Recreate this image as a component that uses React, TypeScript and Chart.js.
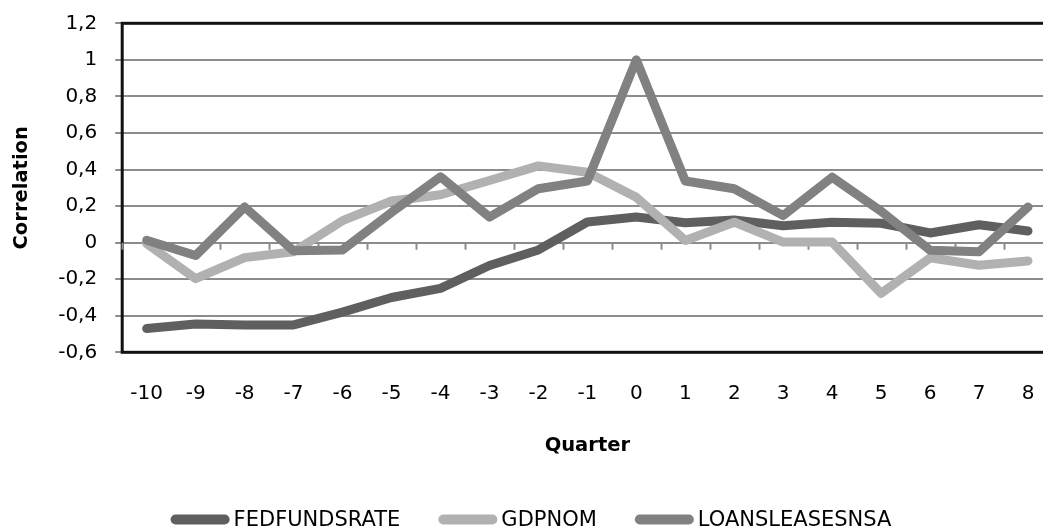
import React, { useEffect, useRef } from "react";
import { Chart, registerables } from "chart.js";

Chart.register(...registerables);

const quarters = ["-10", "-9", "-8", "-7", "-6", "-5", "-4", "-3", "-2", "-1", "0", "1", "2", "3", "4", "5", "6", "7", "8"];

const fedFundsRate = [-0.47, -0.445, -0.45, -0.45, -0.38, -0.3, -0.25, -0.125, -0.04, 0.113, 0.14, 0.109, 0.124, 0.092, 0.111, 0.106, 0.053, 0.098, 0.064];
const gdpNom = [-0.005, -0.197, -0.082, -0.05, 0.12, 0.228, 0.262, 0.34, 0.42, 0.385, 0.248, 0.012, 0.112, 0.003, 0.003, -0.278, -0.083, -0.124, -0.1];
const loansLeases = [0.013, -0.07, 0.195, -0.045, -0.04, 0.165, 0.36, 0.14, 0.295, 0.337, 1.0, 0.337, 0.295, 0.148, 0.358, 0.172, -0.042, -0.05, 0.195];

const seriesNames = ["FEDFUNDSRATE", "GDPNOM", "LOANSLEASESNSA"];
const seriesColors = ["#5f5f5f", "#b1b1b1", "#818181"];

const yMin = -0.6;
const yMax = 1.2;
const yStep = 0.2;

const FONT = '"DejaVu Sans", sans-serif';
const GRID = "#8c8c8c";

const fmtTick = (v: number) => String(Math.round(v * 10) / 10).replace(".", ",");

// Black frame around the plotting area
const plotFrame = {
  id: "plotFrame",
  beforeDatasetsDraw(chart: any) {
    const { ctx, chartArea } = chart;
    ctx.save();
    ctx.strokeStyle = "#111";
    ctx.lineWidth = 3;
    ctx.strokeRect(chartArea.left, chartArea.top, chartArea.right - chartArea.left, chartArea.bottom - chartArea.top);
    ctx.restore();
  },
};

// Category tick marks hanging below the zero line
const zeroAxisTicks = {
  id: "zeroAxisTicks",
  beforeDatasetsDraw(chart: any) {
    const { ctx } = chart;
    const xs = chart.scales.x;
    const y0 = chart.scales.y.getPixelForValue(0);
    ctx.save();
    ctx.strokeStyle = GRID;
    ctx.lineWidth = 2;
    ctx.beginPath();
    for (let i = 0; i <= quarters.length; i++) {
      const px = Math.round(xs.getPixelForValue(i - 0.5)) + 0.5;
      ctx.moveTo(px, y0);
      ctx.lineTo(px, y0 + 7);
    }
    ctx.stroke();
    ctx.restore();
  },
};

// Series key along the bottom: rounded swatch followed by the name
const seriesKey = {
  id: "seriesKey",
  afterDraw(chart: any) {
    const { ctx } = chart;
    ctx.save();
    ctx.font = `21px ${FONT}`;
    const items = chart.data.datasets.map((ds: any) => ({
      label: ds.label,
      color: ds.borderColor,
      w: ctx.measureText(ds.label).width,
    }));
    const sw = 59;
    const gap = 4;
    const spacing = 38;
    const total = items.reduce((s: number, it: any) => s + sw + gap + it.w, 0) + spacing * (items.length - 1);
    let x = chart.width / 2 - total / 2;
    const y = 519.5;
    for (const it of items) {
      ctx.fillStyle = it.color;
      ctx.beginPath();
      ctx.roundRect(x, y - 5, sw, 10, 5);
      ctx.fill();
      x += sw + gap;
      ctx.fillStyle = "#000";
      ctx.textBaseline = "middle";
      ctx.textAlign = "left";
      ctx.fillText(it.label, x, y + 1);
      x += it.w + spacing;
    }
    ctx.restore();
  },
};

export default function App() {
  const canvasRef = useRef<HTMLCanvasElement | null>(null);

  useEffect(() => {
    if (!canvasRef.current) return;
    const values = [fedFundsRate, gdpNom, loansLeases];
    const chart = new Chart(canvasRef.current, {
      type: "line",
      data: {
        labels: quarters,
        datasets: values.map((data, i) => ({
          label: seriesNames[i],
          data,
          borderColor: seriesColors[i],
          backgroundColor: seriesColors[i],
          borderWidth: 9,
          borderCapStyle: "round",
          borderJoinStyle: "round",
          pointRadius: 0,
          tension: 0,
          fill: false,
          order: 2 - i,
        })),
      },
      options: {
        responsive: false,
        animation: false,
        layout: { padding: { left: 0, top: 23.3, right: 9.5, bottom: 0 } },
        plugins: {
          legend: { display: false },
          tooltip: { enabled: false },
        },
        scales: {
          x: {
            type: "category",
            position: "bottom",
            offset: true,
            grid: { display: false, drawTicks: false },
            border: { display: false },
            ticks: {
              color: "#000",
              font: { family: FONT, size: 20 },
              padding: 29,
              maxRotation: 0,
              autoSkip: false,
            },
            title: {
              display: true,
              text: "Quarter",
              color: "#000",
              font: { family: FONT, size: 19.5, weight: "bold" },
              padding: { top: 0, bottom: 72.3 },
            },
            afterFit(scale: any) {
              scale.height = 177.7;
              scale.paddingLeft = 0;
              scale.paddingRight = 0;
            },
          },
          y: {
            min: yMin,
            max: yMax,
            ticks: {
              stepSize: yStep,
              color: "#000",
              font: { family: FONT, size: 20 },
              padding: 18,
              callback: (v: any) => fmtTick(Number(v)),
            },
            grid: {
              color: GRID,
              lineWidth: 2,
              drawTicks: true,
              tickLength: 7,
            },
            border: { display: true, color: GRID, width: 2 },
            title: {
              display: true,
              text: "Correlation",
              color: "#000",
              font: { family: FONT, size: 19.5, weight: "bold" },
              padding: { top: 10, bottom: 0 },
            },
            afterFit(scale: any) {
              scale.width = 122.2;
              scale.paddingTop = 0;
              scale.paddingBottom = 0;
            },
          },
        },
      },
      plugins: [plotFrame, zeroAxisTicks, seriesKey],
    } as any);
    return () => chart.destroy();
  }, []);

  return (
    <div
      style={{
        position: "absolute",
        left: 0,
        top: 0,
        width: 1043,
        height: 530,
        overflow: "hidden",
        background: "#fff",
      }}
    >
      <canvas ref={canvasRef} width={1062} height={530} style={{ display: "block", width: 1062, height: 530 }} />
    </div>
  );
}
